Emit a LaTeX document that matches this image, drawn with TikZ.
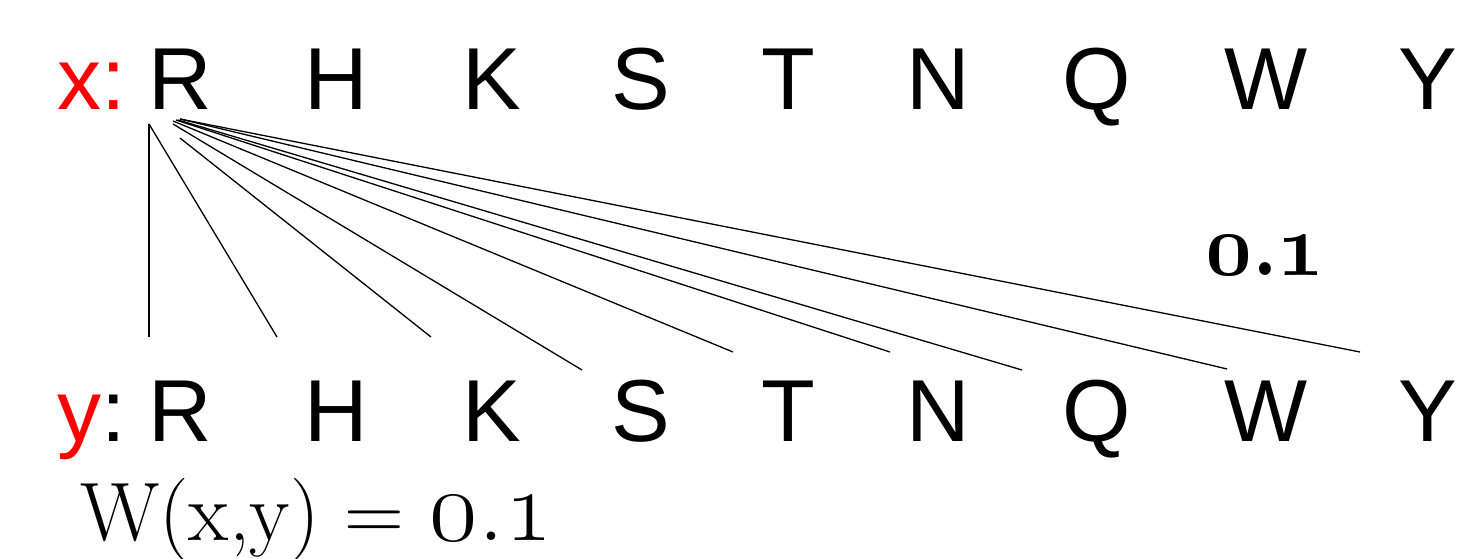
\RequirePackage{fix-cm}
\documentclass[tikz,border=0pt]{standalone}
\usepackage{fontspec}
\usepackage{graphicx}
\newfontfamily\arialf{Liberation Sans}
\newcommand\osnum[1]{{\usefont{TS1}{cmr}{m}{n}#1}}
\newcommand\osnumbf[1]{{\usefont{TS1}{cmr}{bx}{n}#1}}
\begin{document}
\begin{tikzpicture}[x=1pt,y=-1pt,
  letter/.style={anchor=base,inner sep=0pt,font=\arialf\fontsize{88}{88}\selectfont},
  link/.style={line width=1.3pt,black}]
\useasboundingbox (0,0) rectangle (1465,559);
\node[letter,anchor=base west,text=red] (xl) at (57,110) {x:};
\node[letter,anchor=base west] (yl) at (57,441) {\textcolor{red}{y}:};
\foreach \n/\xx in {R/180,H/336,K/492,S/641,T/788,N/938,Q/1097,W/1266,Y/1428}{
  \node[letter] (x\n) at (\xx,110) {\n};
  \node[letter] (y\n) at (\xx,441) {\n};
}
\foreach \i/\sx/\sy/\ex/\ey in {1/149/124/149/337, 2/149/124/277/337, 3/180/138/431/337,
  4/173/124/582/370, 5/173/121/733/352, 6/176/120/890/352, 7/178/120/1022/370,
  8/180/119/1227/369, 9/180/119/1360/352}{
  \coordinate (s\i) at (\sx,\sy);
  \coordinate (e\i) at (\ex,\ey);
  \draw[link] (s\i) -- (e\i);
}
\node[anchor=base,inner sep=0pt] (val) at (1265,275)
  {\scalebox{0.92}[1]{\fontsize{90}{90}\selectfont\bfseries\osnumbf{0}.\osnumbf{1}}};
\node[anchor=base west,inner sep=0pt] (wxy) at (80,540)
  {\scalebox{1.0}[1]{\fontsize{83}{83}\selectfont W(x,y) = {\fontsize{104}{104}\selectfont\osnum{0}.\osnum{1}}}};
\end{tikzpicture}
\end{document}
